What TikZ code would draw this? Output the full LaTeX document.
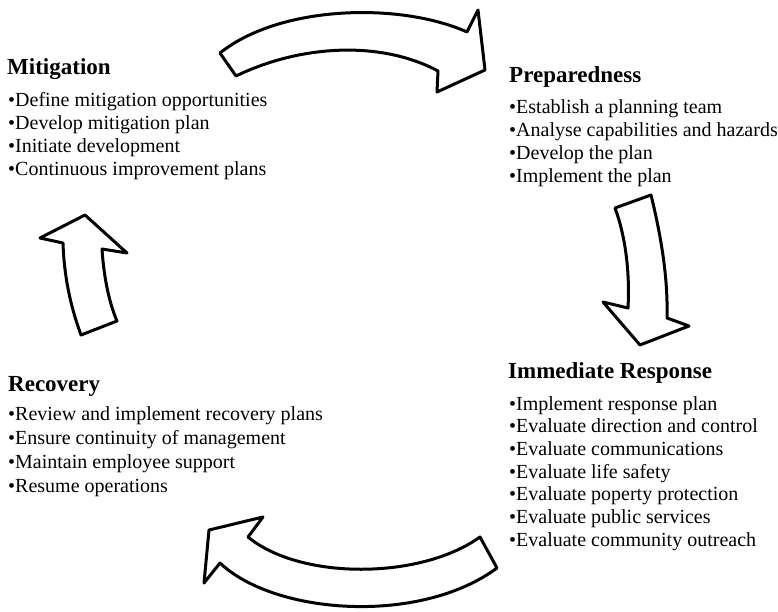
\documentclass[tikz,border=0pt]{standalone}
\usepackage{fontspec}
\setmainfont{Liberation Serif}
\begin{document}
\begin{tikzpicture}[x=1pt,y=-1pt,
  arr/.style={draw=black, fill=white, line width=3pt, line join=round},
  ttl/.style={anchor=base west, inner sep=0pt, font=\fontsize{23}{26}\selectfont\bfseries},
  lst/.style={anchor=base west, inner sep=0pt, font=\fontsize{20}{23}\selectfont}]
\useasboundingbox (0,0) rectangle (778,612);

% arrows
\draw[arr] (220,53) -- (236,76) .. controls (300,45) and (380,40) .. (438,71)
  -- (437,92) -- (485,70) -- (478,10) -- (467,32)
  .. controls (400,2) and (280,5) .. (220,53) -- cycle;
\draw[arr] (615,208) -- (651,195) .. controls (662,240) and (668,280) .. (667,318)
  -- (689,326) -- (640,345) -- (603,302) -- (628,308)
  .. controls (630,270) and (625,235) .. (615,208) -- cycle;
\draw[arr] (263,517) -- (209,530) -- (204,583) -- (220,563)
  .. controls (275,615) and (420,625) .. (497,568) -- (480,537)
  .. controls (420,580) and (300,580) .. (248,537) -- cycle;
\draw[arr] (85,215) -- (127,253) -- (102,249) .. controls (104,280) and (110,305) .. (117,321)
  -- (81,335) .. controls (70,305) and (64,275) .. (63,243) -- (40,238) -- cycle;

% Mitigation
\node[ttl] (mitT) at (7,75) {Mitigation};
\foreach \t [count=\i] in {Define mitigation opportunities,Develop mitigation plan,Initiate development,Continuous improvement plans}
  \node[lst] (mit\i) at (8,{107+23*(\i-1)}) {\textbullet\t};

% Preparedness
\node[ttl] (prepT) at (509,83) {Preparedness};
\foreach \t [count=\i] in {Establish a planning team,Analyse capabilities and hazards,Develop the plan,Implement the plan}
  \node[lst] (prep\i) at (509,{114+23*(\i-1)}) {\textbullet\t};

% Immediate Response
\node[ttl] (respT) at (508,378) {Immediate Response};
\foreach \t [count=\i] in {Implement response plan,Evaluate direction and control,Evaluate communications,Evaluate life safety,Evaluate poperty protection,Evaluate public services,Evaluate community outreach}
  \node[lst] (resp\i) at (509,{410+22.7*(\i-1)}) {\textbullet\t};

% Recovery
\node[ttl] (recT) at (8,391) {Recovery};
\foreach \t [count=\i] in {Review and implement recovery plans,Ensure continuity of management,Maintain employee support,Resume operations}
  \node[lst] (rec\i) at (8,{420+24*(\i-1)}) {\textbullet\t};
\end{tikzpicture}
\end{document}
